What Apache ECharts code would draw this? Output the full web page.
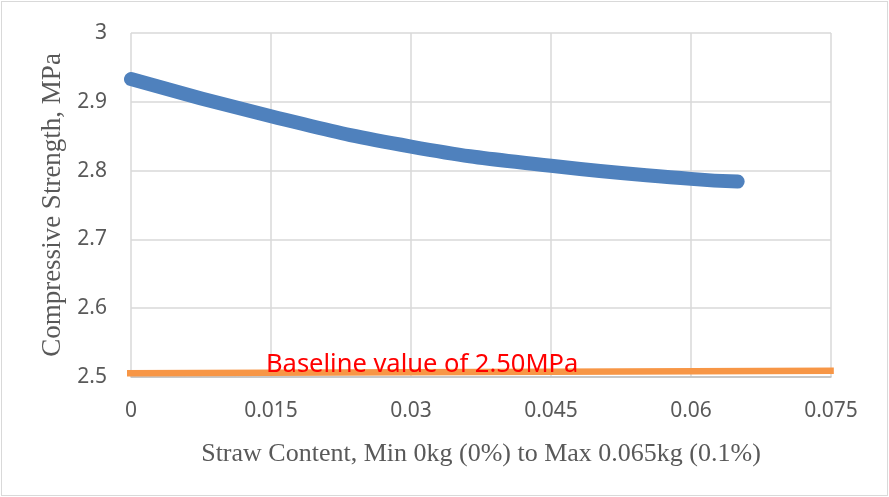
<!DOCTYPE html>
<html><head><meta charset="utf-8">
<script src="https://cdn.jsdelivr.net/npm/echarts@6/dist/echarts.min.js"></script>
<style>
html,body{margin:0;padding:0;background:#fff;}
#c{position:absolute;left:1px;top:1px;width:885px;height:493px;border:1px solid #d9d9d9;}
</style></head>
<body><div id="c"></div>
<script>
const strawContent = [0, 0.015, 0.03, 0.045, 0.06, 0.065];
const compressiveStrength = [2.933, 2.879, 2.835, 2.807, 2.788, 2.784];
const baselineX = [-0.0013, 0.0753];
const baselineY = [2.5055, 2.509];
const xTicks = [0, 0.015, 0.03, 0.045, 0.06, 0.075];
const yTicks = [2.5, 2.6, 2.7, 2.8, 2.9, 3];
const baselineLabel = 'Baseline value of 2.50MPa';

const chart = echarts.init(document.getElementById('c'));
const tickColor = '#595959';
chart.setOption({
  animation: false,
  grid: { left: 129, right: 56, top: 31, bottom: 118 },
  xAxis: {
    type: 'value', min: 0, max: 0.075, interval: 0.015,
    name: 'Straw Content, Min 0kg (0%) to Max 0.065kg (0.1%)',
    nameLocation: 'middle', nameGap: 64,
    nameTextStyle: { fontFamily: 'Liberation Serif', fontSize: 26, color: tickColor },
    axisLine: { show: true, lineStyle: { color: '#bfbfbf', width: 1.5 } },
    axisTick: { show: false },
    splitLine: { show: true, lineStyle: { color: '#d9d9d9', width: 1.5 } },
    axisLabel: { fontFamily: 'Noto Sans', fontSize: 21, color: tickColor, margin: 24,
      formatter: v => { const t = xTicks.find(k => Math.abs(k - v) < 1e-9); return t === undefined ? '' : String(t); } }
  },
  yAxis: {
    type: 'value', min: 2.5, max: 3, interval: 0.1,
    name: 'Compressive Strength, MPa',
    nameLocation: 'middle', nameGap: 64, nameRotate: 90,
    nameTextStyle: { fontFamily: 'Liberation Serif', fontSize: 27, color: tickColor },
    axisLine: { show: false }, axisTick: { show: false },
    splitLine: { show: true, lineStyle: { color: '#d9d9d9', width: 1.5 } },
    axisLabel: { fontFamily: 'Noto Sans', fontSize: 21, color: tickColor, margin: 24,
      formatter: v => { const t = yTicks.find(k => Math.abs(k - v) < 1e-9); return t === undefined ? '' : String(t); } }
  },
  series: [
    {
      type: 'line', clip: false, symbol: 'none',
      data: baselineX.map((x, i) => [x, baselineY[i]]),
      lineStyle: { color: '#f79646', width: 6.5, cap: 'butt' }, z: 3
    },
    {
      type: 'line', smooth: true, symbol: 'none',
      data: strawContent.map((x, i) => [x, compressiveStrength[i]]),
      lineStyle: { color: '#4f81bd', width: 14, cap: 'round', join: 'round' }, z: 4
    }
  ],
  graphic: [{
    type: 'text', x: 264, y: 363, z: 10,
    style: { text: baselineLabel, fill: '#ff0000', font: '25.5px "Noto Sans"', verticalAlign: 'middle' }
  }]
});
</script></body></html>
